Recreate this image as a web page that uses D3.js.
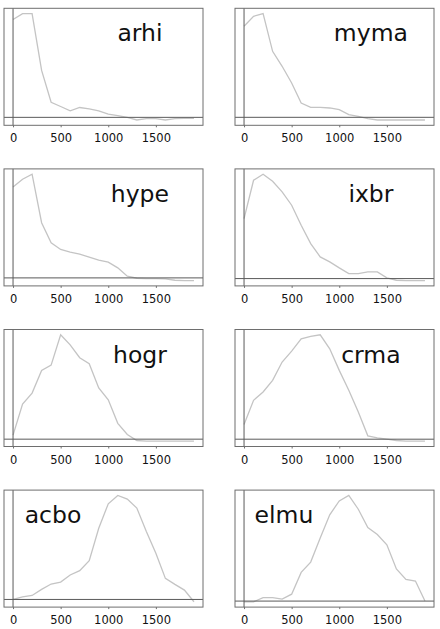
<!DOCTYPE html>
<html>
<head>
<meta charset="utf-8">
<script src="https://cdn.jsdelivr.net/npm/d3@7"></script>
<style>
body { margin: 0; background: #fff; }
svg { display: block; }
</style>
</head>
<body>
<script>
// small multiples, one curve per species along the same x range

var names = ['arhi', 'myma', 'hype', 'ixbr', 'hogr', 'crma', 'acbo', 'elmu']
var xVals = [0, 100, 200, 300, 400, 500, 600, 700, 800, 900, 1000,
             1100, 1200, 1300, 1400, 1500, 1600, 1700, 1800, 1900]
var xTicks = [0, 500, 1000, 1500]

var arhi = [298, 316, 316, 143, 46, 33, 20, 30, 26, 20, 10, 5, 0, -8, -4, -4, -8, -4, -3, -3]
var myma = [273, 303, 311, 198, 153, 103, 43, 30, 30, 28, 23, 8, 3, -4, -8, -8, -8, -8, -8, -8]
var hype = [272, 295, 310, 165, 105, 85, 77, 71, 62, 53, 47, 30, 5, -1, -2, -2, -3, -7, -8, -8]
var ixbr = [180, 295, 313, 292, 260, 220, 160, 105, 65, 50, 32, 15, 15, 20, 20, 2, -5, -6, -6, -6]
var hogr = [12, 104, 137, 204, 220, 310, 280, 242, 224, 152, 117, 47, 14, -4, -6, -6, -6, -6, -6, -6]
var crma = [44, 117, 142, 177, 232, 265, 302, 309, 314, 272, 207, 147, 82, 10, 4, 0, -4, -6, -6, -6]
var acbo = [0, 8, 12, 30, 46, 52, 73, 86, 116, 213, 286, 311, 300, 273, 203, 138, 63, 45, 28, -7]
var elmu = [-2, -2, 10, 10, 6, 20, 83, 113, 183, 250, 290, 306, 266, 213, 193, 163, 93, 63, 58, 0]

var series = {arhi: arhi, myma: myma, hype: hype, ixbr: ixbr,
              hogr: hogr, crma: crma, acbo: acbo, elmu: elmu}

var W = 440, H = 629
var boxW = 199, boxH = 117
var colLeft = [4, 235]
var rowTop = 8.3, rowStep = 160.6

var svg = d3.select('body').append('svg')
    .attr('width', W)
    .attr('height', H)

// pad a domain by 5% each side, like the plotting default
function padded(ext){
    var r = ext[1] - ext[0]
    return [ext[0] - 0.05 * r, ext[1] + 0.05 * r]
}

var x = d3.scaleLinear()
    .domain(padded(d3.extent(xVals)))
    .range([0, boxW])

names.forEach(function(name, i){
    var col = i % 2, row = Math.floor(i / 2)
    var vals = series[name]
    var pts = xVals.map(function(d, j){ return {x: d, y: vals[j]} })

    var y = d3.scaleLinear()
        .domain(padded(d3.extent(vals)))
        .range([boxH, 0])

    var g = svg.append('g')
        .attr('transform', 'translate(' + colLeft[col] + ',' + (rowTop + row * rowStep) + ')')

    g.append('path')
        .datum(pts)
        .attr('d', d3.line().x(d => x(d.x)).y(d => y(d.y)))
        .attr('fill', 'none')
        .attr('stroke', '#c4c4c4')
        .attr('stroke-width', 1.3)

    // zero lines
    g.append('line')
        .attr('x1', x(0)).attr('x2', x(0))
        .attr('y1', 0).attr('y2', boxH)
        .attr('stroke', '#5a5a5a')
        .attr('stroke-width', 1)
    g.append('line')
        .attr('x1', 0).attr('x2', boxW)
        .attr('y1', y(0)).attr('y2', y(0))
        .attr('stroke', '#5a5a5a')
        .attr('stroke-width', 1)

    g.append('rect')
        .attr('width', boxW)
        .attr('height', boxH)
        .attr('fill', 'none')
        .attr('stroke', '#6e6e6e')
        .attr('stroke-width', 1)

    var ax = g.append('g')
        .attr('transform', 'translate(0,' + boxH + ')')
        .call(d3.axisBottom(x).tickValues(xTicks).tickSize(2).tickPadding(7).tickFormat(d => d))
    ax.select('.domain').remove()
    ax.selectAll('line').attr('stroke', '#6e6e6e')
    ax.selectAll('text')
        .attr('fill', '#111')
        .attr('font-family', 'DejaVu Sans')
        .attr('font-size', '11.5px')

    g.append('text')
        .text(name)
        .attr('x', boxW * (row < 3 ? 0.683 : 0.246))
        .attr('y', 33.2)
        .attr('text-anchor', 'middle')
        .attr('fill', '#111')
        .attr('font-family', 'DejaVu Sans')
        .attr('font-size', '23.5px')
})
</script>
</body>
</html>
